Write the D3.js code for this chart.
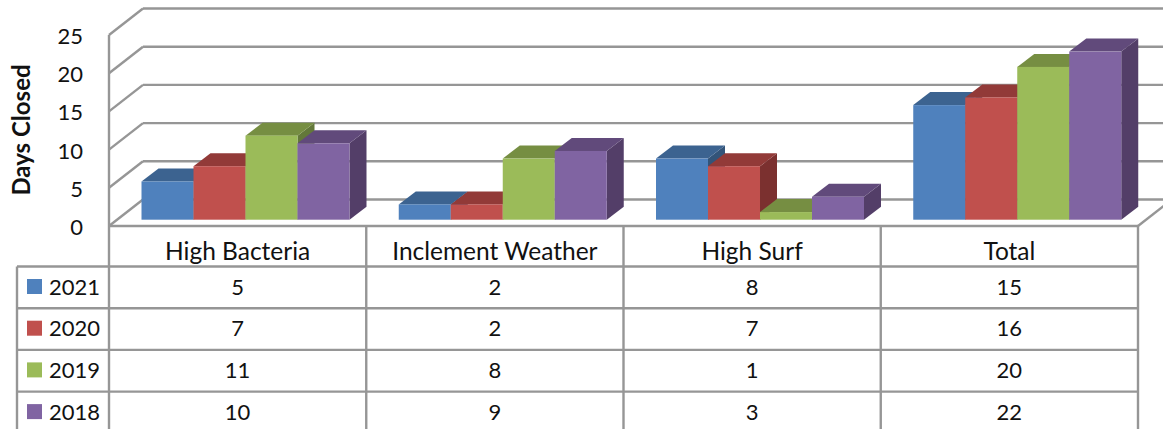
<!DOCTYPE html>
<html>
<head>
<meta charset="utf-8">
<script src="https://cdn.jsdelivr.net/npm/d3@7"></script>
<style>
  html, body { margin: 0; padding: 0; background: #fff; overflow: hidden; }
  text { font-family: Lato, "Open Sans", sans-serif; fill: #111; }
</style>
</head>
<body>
<div id="chart"></div>
<script>
// Chart data
var categories = ["High Bacteria", "Inclement Weather", "High Surf", "Total"];
var years = ["2021", "2020", "2019", "2018"];
var values2021 = [5, 2, 8, 15];
var values2020 = [7, 2, 7, 16];
var values2019 = [11, 8, 1, 20];
var values2018 = [10, 9, 3, 22];
var yTicks = [0, 5, 10, 15, 20, 25];

var seriesValues = [values2021, values2020, values2019, values2018];
var frontColors = ["#4f81bd", "#c0504d", "#9bbb59", "#8064a2"];
var topColors = ["#3c6390", "#923a38", "#768e42", "#614a7b"];
var sideColors = ["#335479", "#7b302f", "#63783a", "#533e68"];

var svgWidth = 1163;
var svgHeight = 429;
var gridColor = "#969696";

// Plot box
var floorY = 226;
var left = 109;
var right = 1138;
var wallDx = 34;
var wallDy = -26.5;
var barDx = 17;
var barDy = -13;
var barBase = 219.7;

var svg = d3.select("#chart")
    .append("svg")
    .attr("width", svgWidth)
    .attr("height", svgHeight)
    .style("display", "block");

// Scales
var yScale = d3.scaleLinear().domain([0, 25]).range([floorY, 35]);
var xScale = d3.scaleBand().domain(categories).range([left, right]);
var barScale = d3.scaleBand().domain(years).range([32.5, 240.5]);

function line(x1, y1, x2, y2) {
    svg.append("line")
        .attr("x1", x1).attr("y1", y1)
        .attr("x2", x2).attr("y2", y2)
        .attr("stroke", gridColor)
        .attr("stroke-width", 2.4);
}

// Walls and gridlines
yTicks.forEach(function(t) {
    var y = yScale(t);
    line(left, y, left + wallDx, y + wallDy);
    line(left + wallDx, y + wallDy, svgWidth, y + wallDy);
});
line(left, yScale(25), left, svgHeight);
line(right, floorY, right + wallDx, floorY + wallDy);

// Y axis labels
svg.selectAll(".tick-label")
    .data(yTicks)
    .enter()
    .append("text")
    .attr("class", "tick-label")
    .attr("x", 83)
    .attr("y", function(d) { return yScale(d) + 9; })
    .attr("text-anchor", "end")
    .attr("font-size", "22px")
    .text(function(d) { return d; });

svg.append("text")
    .attr("transform", "translate(30, 130) rotate(-90)")
    .attr("text-anchor", "middle")
    .attr("font-size", "24px")
    .attr("font-weight", "bold")
    .text("Days Closed");

// Bars, left to right so each one overlaps the previous
categories.forEach(function(cat, c) {
    years.forEach(function(year, s) {
        var x0 = xScale(cat) + barScale(year);
        var x1 = x0 + barScale.bandwidth();
        var barHeight = floorY - yScale(seriesValues[s][c]);
        var yTop = barBase - barHeight;
        var g = svg.append("g");

        g.append("polygon")
            .attr("points", [[x1, barBase], [x1 + barDx, barBase + barDy], [x1 + barDx, yTop + barDy], [x1, yTop]].join(" "))
            .attr("fill", sideColors[s]);
        g.append("polygon")
            .attr("points", [[x0, yTop], [x0 + barDx, yTop + barDy], [x1 + barDx, yTop + barDy], [x1, yTop]].join(" "))
            .attr("fill", topColors[s]);
        g.append("rect")
            .attr("x", x0)
            .attr("y", yTop)
            .attr("width", x1 - x0)
            .attr("height", barHeight)
            .attr("fill", frontColors[s]);
    });
});

// Data table
var rowTop = 266.5;
var rowHeight = 41.7;
var tableLeft = 17;

line(left, floorY, right, floorY);
categories.forEach(function(cat) {
    line(xScale(cat) + xScale.bandwidth(), floorY, xScale(cat) + xScale.bandwidth(), svgHeight);
});
line(tableLeft, rowTop, tableLeft, svgHeight);
years.forEach(function(year, s) {
    line(tableLeft, rowTop + s * rowHeight, right, rowTop + s * rowHeight);
});

svg.selectAll(".cat-label")
    .data(categories)
    .enter()
    .append("text")
    .attr("class", "cat-label")
    .attr("x", function(d) { return xScale(d) + xScale.bandwidth() / 2; })
    .attr("y", 260)
    .attr("text-anchor", "middle")
    .attr("font-size", "24.5px")
    .text(function(d) { return d; });

years.forEach(function(year, s) {
    var baseline = rowTop + s * rowHeight + 28;

    svg.append("rect")
        .attr("x", 27)
        .attr("y", baseline - 15.5)
        .attr("width", 15)
        .attr("height", 15)
        .attr("fill", frontColors[s]);

    svg.append("text")
        .attr("x", 49)
        .attr("y", baseline)
        .attr("font-size", "22px")
        .text(year);

    categories.forEach(function(cat, c) {
        svg.append("text")
            .attr("x", xScale(cat) + xScale.bandwidth() / 2)
            .attr("y", baseline)
            .attr("text-anchor", "middle")
            .attr("font-size", "22px")
            .text(seriesValues[s][c]);
    });
});
</script>
</body>
</html>
